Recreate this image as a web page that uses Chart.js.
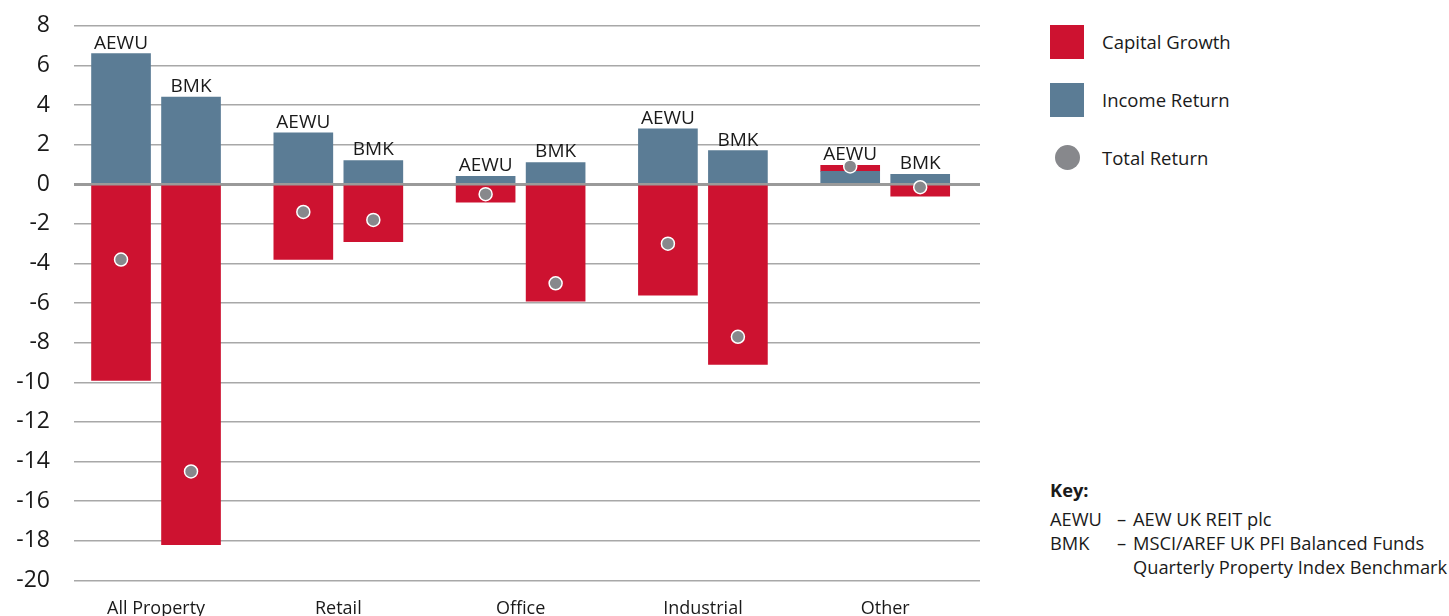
<!DOCTYPE html>
<html>
<head>
<meta charset="utf-8">
<script src="https://cdn.jsdelivr.net/npm/chart.js@4"></script>
<style>
    body { margin: 0; background: #fff; font-family: "Open Sans", sans-serif; color: #1a1a1a; }
    #wrap { position: relative; width: 1449px; height: 616px; overflow: hidden; }
    #chartBox { position: absolute; left: 0; top: -12px; width: 990px; height: 642px; }
    .leg { position: absolute; left: 1050px; font-size: 18.5px; }
    .leg .box { position: absolute; left: 0; width: 34px; height: 34px; }
    .leg span { position: absolute; left: 52px; white-space: nowrap; line-height: 24px; }
    #key { position: absolute; left: 1050px; top: 478px; font-size: 18.3px; line-height: 24px; }
    #key b { display: block; margin-bottom: 5px; }
    #key .row { position: relative; height: 24px; white-space: nowrap; }
    #key .c1 { position: absolute; left: 0; }
    #key .c2 { position: absolute; left: 67px; }
    #key .c3 { position: absolute; left: 83px; }
</style>
</head>
<body>
<div id="wrap">
    <div id="chartBox"><canvas id="chart"></canvas></div>

    <div class="leg" style="top:25px;"><div class="box" style="background:#cd1230;"></div><span style="top:5px;">Capital Growth</span></div>
    <div class="leg" style="top:83px;"><div class="box" style="background:#5b7c95;"></div><span style="top:5px;">Income Return</span></div>
    <div class="leg" style="top:141px;"><div class="box" style="background:#87888c;border-radius:50%;width:25px;height:25px;left:5px;top:4px;"></div><span style="top:5px;">Total Return</span></div>

    <div id="key">
        <b>Key:</b>
        <div class="row"><span class="c1">AEWU</span><span class="c2">–</span><span class="c3">AEW UK REIT plc</span></div>
        <div class="row"><span class="c1">BMK</span><span class="c2">–</span><span class="c3">MSCI/AREF UK PFI Balanced Funds</span></div>
        <div class="row"><span class="c3">Quarterly Property Index Benchmark</span></div>
    </div>
</div>

<script>
const categories = ['All Property', 'Retail', 'Office', 'Industrial', 'Other'];

// AEW UK REIT plc
const aewuIncome = [6.6, 2.6, 0.4, 2.8, 0.65];
const aewuCapital = [-9.9, -3.8, -0.9, -5.6, 0.3];
const aewuTotal = [-3.8, -1.4, -0.5, -3.0, 0.9];

// benchmark
const bmkIncome = [4.4, 1.2, 1.1, 1.7, 0.5];
const bmkCapital = [-18.2, -2.9, -5.9, -9.1, -0.6];
const bmkTotal = [-14.5, -1.8, -5.0, -7.7, -0.15];

const yTicks = [8, 6, 4, 2, 0, -2, -4, -6, -8, -10, -12, -14, -16, -18, -20];

const RED = '#cd1230';
const BLUE = '#5b7c95';
const GREY = '#87888c';
const SHIFT = 0.192; // how far each bar sits from the category centre

//переводим массивы в точки {x, y}, AEWU слева, BMK справа
function toPoints(aewu, bmk) {
    const points = [];
    categories.forEach((c, i) => {
        points.push({x: i - SHIFT, y: aewu[i]});
        points.push({x: i + SHIFT, y: bmk[i]});
    });
    return points;
}

//подписи AEWU / BMK над столбцами
const barLabels = {
    id: 'barLabels',
    afterDatasetsDraw(chart) {
        const ctx = chart.ctx;
        const xs = chart.scales.x;
        const ys = chart.scales.y;
        ctx.save();
        ctx.font = '19px "Open Sans"';
        ctx.fillStyle = '#1a1a1a';
        ctx.textAlign = 'center';
        ctx.textBaseline = 'alphabetic';
        categories.forEach((c, i) => {
            [['AEWU', -SHIFT, aewuIncome, aewuCapital], ['BMK', SHIFT, bmkIncome, bmkCapital]].forEach(([name, dx, inc, cap]) => {
                const top = Math.max(0, inc[i]) + Math.max(0, cap[i]);
                ctx.fillText(name, xs.getPixelForValue(i + dx), ys.getPixelForValue(top) - 5);
            });
        });
        ctx.restore();
    }
};

new Chart(document.getElementById('chart'), {
    data: {
        datasets: [
            {
                type: 'scatter',
                label: 'Total Return',
                data: toPoints(aewuTotal, bmkTotal),
                stack: 'total',
                order: 0,
                backgroundColor: GREY,
                borderColor: '#ffffff',
                borderWidth: 1.5,
                pointRadius: 6.5,
                pointHoverRadius: 6.5
            },
            {
                type: 'bar',
                label: 'Income Return',
                data: toPoints(aewuIncome, bmkIncome),
                order: 1,
                backgroundColor: BLUE,
                barThickness: 59
            },
            {
                type: 'bar',
                label: 'Capital Growth',
                data: toPoints(aewuCapital, bmkCapital),
                order: 2,
                backgroundColor: RED,
                barThickness: 59
            }
        ]
    },
    options: {
        responsive: true,
        maintainAspectRatio: false,
        animation: false,
        layout: {padding: {top: 14, right: 10, left: 0, bottom: 0}},
        plugins: {
            legend: {display: false},
            tooltip: {enabled: false}
        },
        scales: {
            x: {
                type: 'linear',
                stacked: true,
                offset: false,
                min: -0.45,
                max: 4.52,
                afterBuildTicks: axis => { axis.ticks = categories.map((c, i) => ({value: i})); },
                grid: {display: false},
                border: {display: false},
                ticks: {
                    padding: 10,
                    color: '#1a1a1a',
                    font: {family: 'Open Sans', size: 18},
                    callback: value => categories[value]
                }
            },
            y: {
                stacked: true,
                min: -20,
                max: 8,
                afterBuildTicks: axis => { axis.ticks = yTicks.map(v => ({value: v})); },
                afterFit: axis => { axis.width = 74; },
                border: {display: false},
                grid: {
                    drawTicks: false,
                    color: ctx => ctx.tick && ctx.tick.value === 0 ? '#9a9a9a' : '#a8a8a8',
                    lineWidth: ctx => ctx.tick && ctx.tick.value === 0 ? 3 : 1.5
                },
                ticks: {
                    padding: 24,
                    color: '#1a1a1a',
                    font: {family: 'Open Sans', size: 23}
                }
            }
        }
    },
    plugins: [barLabels]
});
</script>
</body>
</html>
